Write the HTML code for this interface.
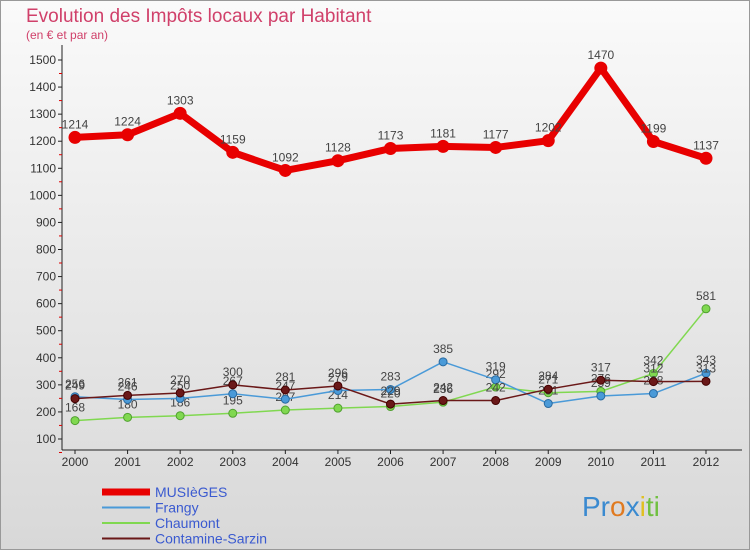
<!DOCTYPE html>
<html><head><meta charset="utf-8"><style>
body{margin:0;width:750px;height:550px;overflow:hidden;font-family:"Liberation Sans",sans-serif}
</style></head><body>
<svg width="750" height="550">
<defs><linearGradient id="bg" x1="0" y1="0" x2="0" y2="1"><stop offset="0" stop-color="#fafafa"/><stop offset="1" stop-color="#d8d8d8"/></linearGradient></defs>
<rect x="0.5" y="0.5" width="749" height="549" fill="url(#bg)" stroke="#999"/>
<text x="26" y="22" font-size="19" fill="#d0406a">Evolution des Impôts locaux par Habitant</text>
<text x="26" y="39" font-size="12" fill="#d0406a">(en € et par an)</text>
<g id="axes"></g><g id="series"></g><g id="legend"></g>
<text x="582" y="516" font-size="28" fill="#e08020"><tspan fill="#3a8ad0">Pr</tspan><tspan fill="#e07a20">o</tspan><tspan fill="#3a8ad0">x</tspan><tspan fill="#e0c020">i</tspan><tspan fill="#70c040">ti</tspan></text>
</svg>
<script>
const years=[2000,2001,2002,2003,2004,2005,2006,2007,2008,2009,2010,2011,2012];
const yTicks=[100,200,300,400,500,600,700,800,900,1000,1100,1200,1300,1400,1500];
const musieges=[1214,1224,1303,1159,1092,1128,1173,1181,1177,1202,1470,1199,1137];
const frangy=[256,246,250,267,247,279,283,385,319,231,259,268,343];
const chaumont=[168,180,186,195,207,214,220,236,292,271,276,342,581];
const contamine=[249,261,270,300,281,296,229,242,242,284,317,312,313];
const NS='http://www.w3.org/2000/svg';
function X(i){return 75+i*(706-75)/12;}
function Y(v){return 439-(v-100)*(379/1400);}
function mk(t,a,p){const e=document.createElementNS(NS,t);for(const k in a)e.setAttribute(k,a[k]);p.appendChild(e);return e;}
const ax=document.getElementById('axes');
mk('line',{x1:62,y1:45,x2:62,y2:450,stroke:'#222'},ax);
mk('line',{x1:62,y1:450,x2:742,y2:450,stroke:'#222'},ax);
yTicks.forEach(v=>{const y=Y(v);
mk('line',{x1:58,y1:y,x2:62,y2:y,stroke:'#222'},ax);
mk('line',{x1:59,y1:y+13.5,x2:62,y2:y+13.5,stroke:'#d00'},ax);
const t=mk('text',{x:56,y:y+4,'font-size':12,'text-anchor':'end',fill:'#333'},ax);t.textContent=v;

});
years.forEach((yr,i)=>{const x=X(i);mk('line',{x1:x,y1:450,x2:x,y2:454,stroke:'#222'},ax);
const t=mk('text',{x:x,y:466,'font-size':12,'text-anchor':'middle',fill:'#333'},ax);t.textContent=yr;

});
const sg=document.getElementById('series');
function draw(name,data,color,w,r,dark){const g=mk('g',{},sg);


mk('polyline',{points:data.map((v,i)=>X(i)+','+Y(v)).join(' '),fill:'none',stroke:color,'stroke-width':w,'stroke-linejoin':'round'},g);
data.forEach((v,i)=>{const c=mk('circle',{cx:X(i),cy:Y(v),r:r,fill:color,stroke:dark,'stroke-width':1},g);


const t=mk('text',{x:X(i),y:Y(v)-9,'font-size':12,'text-anchor':'middle',fill:'#444'},g);t.textContent=v;

});}
draw('chaumont',chaumont,'#80d850',1.5,4,'#50a030');
draw('frangy',frangy,'#4a9ad8',1.5,4,'#2a6aa0');
draw('contamine',contamine,'#6a1818',1.5,4,'#400');
draw('musieges',musieges,'#e80000',7,6,'#e80000');
const lg=document.getElementById('legend');
[['MUSIèGES','#e80000',7],['Frangy','#4a9ad8',2],['Chaumont','#80d850',2],['Contamine-Sarzin','#6a1818',2]].forEach((d,i)=>{
const y=492+i*15.5;const g=mk('g',{},lg);


mk('line',{x1:102,y1:y,x2:150,y2:y,stroke:d[1],'stroke-width':d[2]},g);
const t=mk('text',{x:155,y:y+5,'font-size':14,fill:'#3a5ad0'},g);t.textContent=d[0];});
</script>
</body></html>
